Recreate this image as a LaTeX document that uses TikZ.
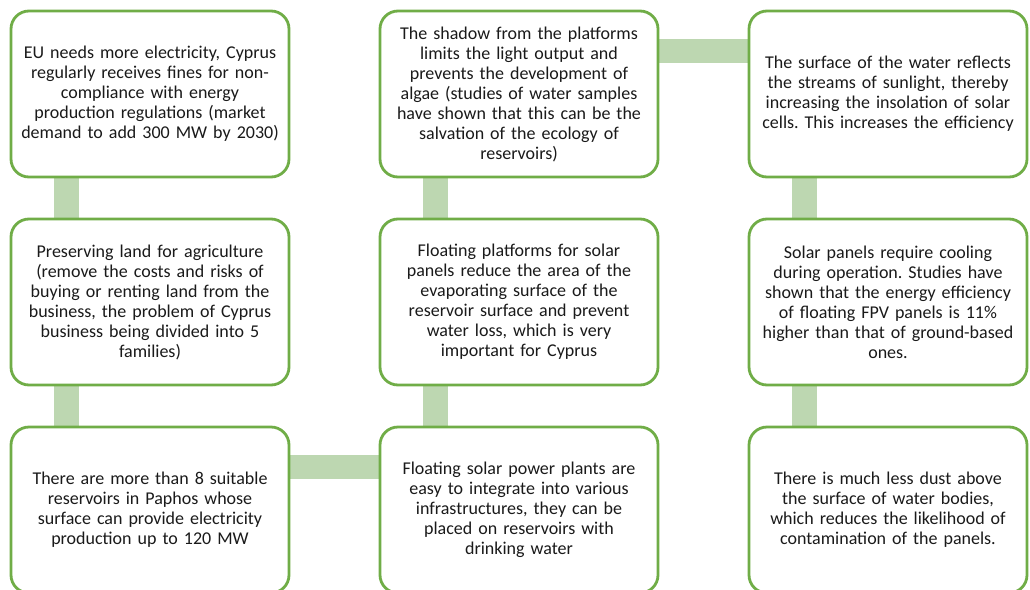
\documentclass[tikz,border=0pt]{standalone}
\usepackage{fontspec}
\setmainfont{Carlito}
\usetikzlibrary{backgrounds}
\definecolor{boxgreen}{HTML}{70AD47}
\definecolor{conngreen}{HTML}{BDD7B1}
\definecolor{txt}{HTML}{1A1A1A}
\frenchspacing
\begin{document}
\begin{tikzpicture}[x=1pt,y=-1pt,
  box/.style={draw=boxgreen, line width=2.8pt, fill=white, rounded corners=18pt,
    minimum width=278pt, minimum height=166pt, inner sep=0pt, text=txt,
    text width=266pt, align=center, font=\fontsize{18}{20}\selectfont},
  conn/.style={fill=conngreen}]
\useasboundingbox (0,0) rectangle (1030,589);
\node[box] (b11) at (150,94) {EU needs more electricity, Cyprus\\regularly receives fines for non-\\compliance with energy\\production regulations (market\\demand to add 300 MW by 2030)};
\node[box] (b21) at (150,302) {Preserving land for agriculture\\(remove the costs and risks of\\buying or renting land from the\\business, the problem of Cyprus\\business being divided into 5\\families)};
\node[box] (b31) at (150,510) {There are more than 8 suitable\\reservoirs in Paphos whose\\surface can provide electricity\\production up to 120 MW};
\node[box] (b12) at (519,94) {The shadow from the platforms\\limits the light output and\\prevents the development of\\algae (studies of water samples\\have shown that this can be the\\salvation of the ecology of\\reservoirs)};
\node[box] (b22) at (519,302) {Floating platforms for solar\\panels reduce the area of the\\evaporating surface of the\\reservoir surface and prevent\\water loss, which is very\\important for Cyprus};
\node[box] (b32) at (519,510) {Floating solar power plants are\\easy to integrate into various\\infrastructures, they can be\\placed on reservoirs with\\drinking water};
\node[box] (b13) at (888,94) {The surface of the water reflects\\the streams of sunlight, thereby\\increasing the insolation of solar\\cells. This increases the efficiency};
\node[box] (b23) at (888,302) {Solar panels require cooling\\during operation. Studies have\\shown that the energy efficiency\\of floating FPV panels is 11\%\\higher than that of ground-based\\ones.};
\node[box] (b33) at (888,510) {There is much less dust above\\the surface of water bodies,\\which reduces the likelihood of\\contamination of the panels.};
\begin{scope}[on background layer]
\fill[conn] ([xshift=44pt]b11.south west) rectangle ([xshift=69pt]b21.north west);
\fill[conn] ([xshift=44pt]b21.south west) rectangle ([xshift=69pt]b31.north west);
\fill[conn] ([yshift=-29pt]b31.north east) rectangle ([yshift=-53pt]b32.north west);
\fill[conn] ([xshift=44pt]b32.north west) rectangle ([xshift=69pt]b22.south west);
\fill[conn] ([xshift=44pt]b22.north west) rectangle ([xshift=69pt]b12.south west);
\fill[conn] ([yshift=-29pt]b12.north east) rectangle ([yshift=-53pt]b13.north west);
\fill[conn] ([xshift=44pt]b13.south west) rectangle ([xshift=69pt]b23.north west);
\fill[conn] ([xshift=44pt]b23.south west) rectangle ([xshift=69pt]b33.north west);
\end{scope}
\end{tikzpicture}
\end{document}
